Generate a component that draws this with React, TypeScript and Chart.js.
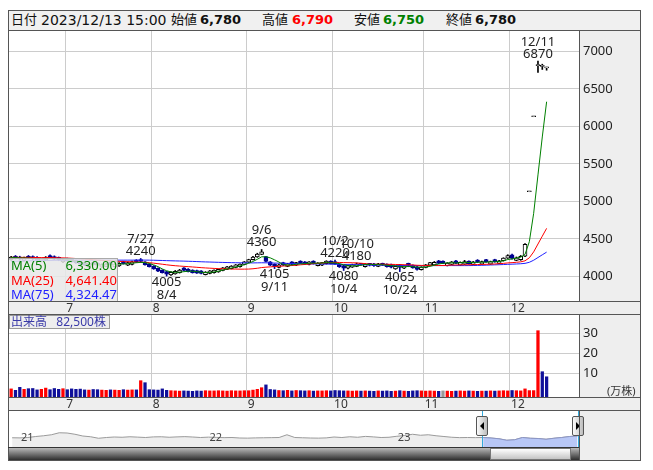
import React, { useEffect, useRef } from 'react';
import { Chart, registerables } from 'chart.js';
Chart.register(...registerables);

const FONT = "'Noto Sans', 'Noto Sans CJK JP', sans-serif";
const HFONT = "'DejaVu Sans', 'Noto Sans CJK JP', sans-serif";

// ---- trading days (2023) ----
const dates = [
  '6/14','6/15','6/16','6/19','6/20','6/21','6/22','6/23','6/26','6/27','6/28','6/29','6/30',
  '7/3','7/4','7/5','7/6','7/7','7/10','7/11','7/12','7/13','7/14','7/18','7/19','7/20','7/21','7/24','7/25','7/26','7/27','7/28','7/31',
  '8/1','8/2','8/3','8/4','8/7','8/8','8/9','8/10','8/14','8/15','8/16','8/17','8/18','8/21','8/22','8/23','8/24','8/25','8/28','8/29','8/30','8/31',
  '9/1','9/4','9/5','9/6','9/7','9/8','9/11','9/12','9/13','9/14','9/15','9/19','9/20','9/21','9/22','9/25','9/26','9/27','9/28','9/29',
  '10/2','10/3','10/4','10/5','10/6','10/10','10/11','10/12','10/13','10/16','10/17','10/18','10/19','10/20','10/23','10/24','10/25','10/26','10/27','10/30','10/31',
  '11/1','11/2','11/6','11/7','11/8','11/9','11/10','11/13','11/14','11/15','11/16','11/17','11/20','11/21','11/22','11/24','11/27','11/28','11/29','11/30',
  '12/1','12/4','12/5','12/6','12/7','12/8','12/11','12/12','12/13',
];

const opens = [
  4225,4270,4260,4215,4270,4265,4255,4205,4220,4280,4265,4255,4195,
  4240,4230,4215,4200,4185,4125,4185,4180,4125,4135,4190,4130,4140,4200,4150,4160,4220,4225,4195,4165,
  4140,4110,4085,4065,4020,4035,4050,4115,4100,4085,4080,4075,4025,4040,4050,4060,4080,4095,4105,4120,4130,4160,
  4190,4225,4260,4295,4265,4195,4165,4120,4185,4135,4195,4150,4205,4195,4160,4205,4145,4150,4170,4205,
  4200,4165,4145,4110,4125,4135,4175,4130,4175,4170,4135,4175,4165,4160,4100,4155,4110,4175,4150,4130,4090,
  4120,4150,4155,4210,4205,4145,4160,4210,4150,4165,4205,4160,4220,4165,4225,4165,4225,4175,4210,4245,
  4290,4215,4225,4270,5130,6130,6810,6800,6780,
];
const highs = [
  4270,4280,4270,4260,4280,4275,4265,4245,4265,4290,4275,4260,4235,
  4245,4235,4220,4205,4190,4170,4190,4185,4170,4180,4195,4175,4185,4205,4195,4205,4225,4240,4200,4170,
  4145,4115,4090,4070,4065,4080,4095,4120,4105,4090,4085,4080,4065,4080,4090,4100,4120,4135,4145,4160,4170,4200,
  4230,4270,4310,4360,4270,4200,4170,4165,4190,4175,4200,4190,4210,4200,4200,4210,4185,4190,4210,4210,
  4220,4170,4150,4150,4165,4180,4175,4170,4175,4175,4175,4178,4170,4165,4140,4160,4150,4178,4155,4135,4130,
  4160,4190,4200,4215,4210,4185,4200,4215,4195,4215,4210,4200,4225,4205,4230,4205,4230,4215,4250,4290,
  4300,4260,4280,4440,5130,6130,6870,6830,6790,
];
const lows = [
  4215,4230,4220,4205,4235,4225,4215,4195,4210,4240,4220,4210,4185,
  4205,4190,4175,4160,4145,4120,4150,4145,4120,4130,4150,4125,4135,4165,4145,4155,4185,4185,4150,4125,
  4095,4065,4045,4005,4015,4030,4045,4075,4060,4045,4040,4035,4020,4035,4045,4055,4075,4090,4100,4115,4125,4155,
  4185,4220,4255,4290,4195,4145,4105,4115,4145,4130,4155,4145,4170,4160,4155,4165,4140,4145,4165,4165,
  4160,4120,4080,4100,4120,4130,4150,4125,4140,4135,4130,4145,4125,4115,4095,4065,4105,4130,4110,4085,4085,
  4115,4145,4150,4170,4170,4140,4155,4170,4145,4160,4165,4155,4185,4160,4190,4160,4190,4170,4205,4240,
  4230,4210,4215,4265,5130,6130,6720,6760,6750,
];
const closes = [
  4260,4240,4230,4250,4245,4235,4225,4235,4255,4250,4230,4220,4225,
  4210,4195,4180,4165,4150,4160,4155,4150,4160,4170,4155,4165,4175,4170,4185,4195,4190,4200,4155,4130,
  4100,4070,4050,4030,4055,4070,4085,4080,4065,4050,4045,4040,4060,4075,4085,4095,4115,4130,4140,4155,4165,4195,
  4225,4260,4300,4330,4200,4150,4130,4155,4150,4170,4160,4185,4175,4165,4195,4170,4180,4185,4205,4170,
  4165,4130,4110,4145,4160,4170,4160,4165,4150,4145,4170,4150,4130,4125,4135,4120,4145,4140,4115,4095,4125,
  4155,4185,4190,4175,4175,4180,4195,4175,4190,4200,4170,4195,4190,4200,4195,4200,4195,4210,4245,4280,
  4240,4250,4270,4430,5130,6130,6810,6800,6780,
];
// closes before 6/14, used only for the moving averages
const priorCloses = [
  4120,4130,4125,4140,4135,4150,4145,4140,4155,4160,
  4150,4145,4160,4170,4165,4155,4150,4160,4175,4170,
  4165,4160,4170,4180,4175,4165,4170,4185,4180,4175,
  4170,4180,4190,4185,4180,4175,4190,4200,4195,4190,
  4200,4210,4205,4215,4220,4210,4220,4230,4225,4235,
  4240,4250,4245,4255,4260,4250,4245,4255,4265,4260,
  4250,4255,4265,4270,4260,4255,4250,4260,4265,4255,
  4250,4260,4255,4250,
];
// volume, shares
const volumes = [
  22000,15000,30000,20000,23000,24000,17000,20000,26000,18000,24000,20000,23000,
  18000,22000,20000,21000,17000,16000,19000,18000,16000,15000,17000,16000,15000,18000,16000,17000,17000,63000,53000,18000,
  17000,16000,22000,15000,13000,12000,11000,12000,11000,10000,12000,11000,13000,12000,12000,13000,12000,11000,13000,12000,12000,13000,
  13000,16000,20000,28000,42000,19000,17000,14000,13000,15000,12000,14000,13000,12000,13000,11000,12000,12000,13000,12000,
  14000,13000,12000,12000,11000,12000,11000,12000,11000,10000,12000,11000,12000,10000,11000,13000,11000,10000,12000,13000,12000,
  11000,12000,11000,10000,12000,11000,10000,11000,12000,11000,12000,11000,10000,11000,11000,12000,11000,12000,13000,12000,
  14000,13000,12000,22000,13500,13500,313000,108000,82500,
];

const highMarks = ['7/27', '9/6', '10/2', '10/10', '12/11'];
const lowMarks = ['8/4', '9/11', '10/4', '10/24'];
const maPeriods = [5, 25, 75];
const maColors = ['#008000', '#ff0000', '#2020ff'];
const priceTicks = [4000, 4500, 5000, 5500, 6000, 6500, 7000];
const volTicks = [10, 20, 30];

// navigator: half-month closes, Dec 2020 .. Dec 2023 (month 0 = Jan 2021)
const navValues = [
  4190,4185,4200,4240,4270,4310,4390,4380,4330,4260,4230,4170,4200,4220,4210,4230,4215,4200,4225,4230,
  4210,4225,4235,4220,4200,4215,4205,4195,4200,4180,4175,4185,4190,4195,4200,4310,4200,4190,4180,4175,
  4185,4220,4200,4230,4210,4245,4225,4200,4210,4250,4280,4330,4290,4310,4270,4240,4210,4195,4200,4195,
  4200,4180,4150,4090,4110,4200,4170,4160,4130,4170,4200,4240,4260,
];
const navYears = ['21', '22', '23'];
const navYearMonths = [0, 12, 24];
const navSelection = [29.4, 35.6];
const NAV_START = -0.5;
const NAV_STEP = 0.5;

const SLOTS = 132;
const PRICE_MIN = 3673, PRICE_MAX = 7286;
const VOL_MIN = -1.85, VOL_MAX = 39.65;

const N = dates.length;
const labels = [...dates, ...Array(SLOTS - N).fill('')];
const monthOf = (d: string) => d.split('/')[0];
const monthStart = labels.map((d, i) => i > 0 && i < N && monthOf(d) !== monthOf(dates[i - 1]));
const monthLabel = labels.map((d, i) => (monthStart[i] ? monthOf(d) : ''));

function movingAvg(n: number) {
  const all = [...priorCloses, ...closes];
  const off = priorCloses.length;
  return closes.map((_, i) => {
    const end = off + i;
    const start = Math.max(0, end - n + 1);
    let s = 0;
    for (let k = start; k <= end; k++) s += all[k];
    return s / (end - start + 1);
  });
}
const mas = maPeriods.map(movingAvg);
const isUp = closes.map((c, i) => c >= opens[i]);
const volColor = closes.map((c, i) => {
  const p = i === 0 ? priorCloses[priorCloses.length - 1] : closes[i - 1];
  return c > p ? '#ff0000' : c < p ? '#10109a' : '#999999';
});

const fmt = (v: number, d = 0) =>
  v.toLocaleString('en-US', { minimumFractionDigits: d, maximumFractionDigits: d });

const noPad = (s: any) => { s.paddingTop = 0; s.paddingBottom = 0; s.paddingLeft = 0; s.paddingRight = 0; };

const xScaleCommon = (h: number) => ({
  type: 'category' as const,
  offset: true,
  grid: {
    offset: true,
    drawTicks: false,
    color: (ctx: any) => (monthStart[ctx.index] ? '#cccccc' : 'rgba(0,0,0,0)'),
  },
  border: { display: false },
  ticks: {
    autoSkip: false,
    maxRotation: 0,
    minRotation: 0,
    padding: 0,
    align: 'start' as const,
    labelOffset: -1,
    color: '#333',
    font: { family: FONT, size: 12 },
    callback: (_v: any, i: number) => monthLabel[i],
  },
  afterFit: (s: any) => { s.height = h; noPad(s); },
});

const yScaleCommon = (min: number, max: number, ticks: number[]) => ({
  position: 'right' as const,
  min,
  max,
  grid: { drawTicks: false, color: '#cccccc' },
  border: { display: false },
  ticks: { padding: 4, color: '#222', font: { family: FONT, size: 13 }, callback: (v: any) => String(v) },
  afterBuildTicks: (s: any) => { s.ticks = ticks.map((v) => ({ value: v })); },
  afterFit: (s: any) => { s.width = 61; noPad(s); },
});

const panelBg = {
  id: 'panelBg',
  beforeDraw(chart: any) {
    const { ctx, chartArea: ca, width, height } = chart;
    ctx.save();
    ctx.fillStyle = '#ffffff';
    ctx.fillRect(ca.left, ca.top, ca.right - ca.left, ca.bottom - ca.top);
    ctx.fillStyle = '#eeeeee';
    ctx.fillRect(ca.right, 0, width - ca.right, ca.bottom);
    ctx.fillRect(0, ca.bottom, width, height - ca.bottom);
    ctx.restore();
  },
};

const markLabels = {
  id: 'markLabels',
  afterDatasetsDraw(chart: any) {
    const { ctx, scales } = chart;
    ctx.save();
    ctx.font = `13px ${FONT}`;
    ctx.fillStyle = '#222';
    ctx.textAlign = 'center';
    ctx.textBaseline = 'middle';
    highMarks.forEach((d) => {
      const i = dates.indexOf(d);
      const x = scales.x.getPixelForValue(i);
      const y = scales.y.getPixelForValue(highs[i]);
      ctx.fillText(d, x, y - 19);
      ctx.fillText(String(highs[i]), x, y - 7);
    });
    lowMarks.forEach((d) => {
      const i = dates.indexOf(d);
      const x = scales.x.getPixelForValue(i);
      const y = scales.y.getPixelForValue(lows[i]);
      ctx.fillText(String(lows[i]), x, y + 6);
      ctx.fillText(d, x, y + 19);
    });
    ctx.restore();
  },
};

const navLabels = {
  id: 'navLabels',
  afterDatasetsDraw(chart: any) {
    const { ctx, scales } = chart;
    ctx.save();
    ctx.font = `11px ${FONT}`;
    ctx.fillStyle = '#444';
    ctx.textBaseline = 'middle';
    navYears.forEach((t, k) => {
      ctx.fillText(t, scales.x.getPixelForValue(navYearMonths[k]) + 1, 28);
    });
    ctx.restore();
  },
};

const baseOpts = {
  animation: false as const,
  responsive: false,
  layout: { padding: 0 },
  plugins: { legend: { display: false }, tooltip: { enabled: false } },
};

function PriceChart() {
  const ref = useRef<HTMLCanvasElement>(null);
  useEffect(() => {
    const chart = new Chart(ref.current!, {
      type: 'bar',
      data: {
        labels,
        datasets: [
          ...mas.map((m, k) => ({
            type: 'line' as const,
            data: m,
            borderColor: maColors[k],
            borderWidth: 1,
            pointRadius: 0,
            tension: 0,
          })),
          {
            type: 'bar' as const,
            data: opens.map((o, i) => [o, closes[i]]),
            backgroundColor: isUp.map((u) => (u ? '#ffffff' : '#000090')),
            borderColor: isUp.map((u) => (u ? '#000000' : '#000090')),
            borderWidth: 1,
            borderSkipped: false,
            barThickness: 4,
            minBarLength: 1,
            grouped: false,
          },
          {
            type: 'bar' as const,
            data: lows.map((l, i) => [l, highs[i]]),
            backgroundColor: isUp.map((u) => (u ? '#000000' : '#000090')),
            barThickness: 1,
            grouped: false,
          },
        ] as any,
      },
      options: {
        ...baseOpts,
        scales: {
          x: xScaleCommon(13) as any,
          y: yScaleCommon(PRICE_MIN, PRICE_MAX, priceTicks) as any,
        },
      },
      plugins: [panelBg, markLabels],
    });
    return () => chart.destroy();
  }, []);
  return <canvas ref={ref} width={631} height={284} style={{ position: 'absolute', left: 9, top: 30, width: 631, height: 284 }} />;
}

function VolumeChart() {
  const ref = useRef<HTMLCanvasElement>(null);
  useEffect(() => {
    const chart = new Chart(ref.current!, {
      type: 'bar',
      data: {
        labels,
        datasets: [
          {
            data: volumes.map((v) => [VOL_MIN, v / 10000]),
            backgroundColor: volColor,
            barThickness: 2.6,
            grouped: false,
          },
        ] as any,
      },
      options: {
        ...baseOpts,
        scales: {
          x: xScaleCommon(13) as any,
          y: yScaleCommon(VOL_MIN, VOL_MAX, volTicks) as any,
        },
      },
      plugins: [panelBg],
    });
    return () => chart.destroy();
  }, []);
  return <canvas ref={ref} width={631} height={96} style={{ position: 'absolute', left: 9, top: 314, width: 631, height: 96 }} />;
}

function NavChart() {
  const ref = useRef<HTMLCanvasElement>(null);
  useEffect(() => {
    const pts = navValues.map((v, k) => ({ x: NAV_START + k * NAV_STEP, y: v }));
    const sel = pts.filter((p) => p.x >= navSelection[0] && p.x <= navSelection[1]);
    const chart = new Chart(ref.current!, {
      type: 'line',
      data: {
        datasets: [
          { data: sel, borderColor: '#8a94c4', backgroundColor: '#b8c7f6', fill: 'start', borderWidth: 1, pointRadius: 0 },
          { data: pts, borderColor: '#9a9a9a', backgroundColor: '#eeeeee', fill: 'start', borderWidth: 1, pointRadius: 0 },
        ] as any,
      },
      options: {
        ...baseOpts,
        scales: {
          x: { type: 'linear', min: -0.7, max: 35.6, display: false },
          y: { min: 3820, max: 5300, display: false },
        },
      },
      plugins: [navLabels],
    });
    return () => chart.destroy();
  }, []);
  return <canvas ref={ref} width={570} height={37} style={{ position: 'absolute', left: 9, top: 410, width: 570, height: 37 }} />;
}

const line = (l: number, t: number, w: number, h: number, c = '#555') => (
  <div style={{ position: 'absolute', left: l, top: t, width: w, height: h, background: c }} />
);

export default function App() {
  const last = N - 1;
  const maLast = mas.map((m) => m[last]);
  const hs: React.CSSProperties = { position: 'absolute', top: 12, lineHeight: '16px', fontSize: 13, fontFamily: HFONT, color: '#111', whiteSpace: 'nowrap' };
  const hv: React.CSSProperties = { ...hs, fontWeight: 'bold', fontSize: 13 };
  const maNames = maPeriods.map((p) => `MA(${p})`);
  return (
    <div style={{ position: 'absolute', left: 0, top: 0, width: 653, height: 470, overflow: 'hidden', background: '#fff' }}>
      <div style={{ position: 'absolute', left: 8, top: 10, width: 633, height: 451, border: '1px solid #555', boxSizing: 'border-box', background: '#fff' }} />
      <PriceChart />
      <VolumeChart />
      <NavChart />
      {/* header */}
      <div style={{ position: 'absolute', left: 8, top: 10, width: 633, height: 21, border: '1px solid #555', boxSizing: 'border-box', background: '#f0f0f0' }} />
      <span style={{ ...hs, left: 11 }}>日付</span>
      <span style={{ ...hs, left: 41, fontSize: 14 }}>2023/12/{dates[last].split('/')[1]} 15:00</span>
      <span style={{ ...hs, left: 171 }}>始値</span>
      <span style={{ ...hv, left: 200 }}>{fmt(opens[last])}</span>
      <span style={{ ...hs, left: 262 }}>高値</span>
      <span style={{ ...hv, left: 292, color: '#ff0000' }}>{fmt(highs[last])}</span>
      <span style={{ ...hs, left: 354 }}>安値</span>
      <span style={{ ...hv, left: 383, color: '#008000' }}>{fmt(lows[last])}</span>
      <span style={{ ...hs, left: 446 }}>終値</span>
      <span style={{ ...hv, left: 475 }}>{fmt(closes[last])}</span>
      {/* MA legend */}
      <div style={{ position: 'absolute', left: 9, top: 258, width: 109, height: 43, background: 'rgba(232,232,232,0.85)', borderTop: '1px solid #aaa', borderRight: '1px solid #aaa', boxSizing: 'border-box' }} />
      {maNames.map((nm, k) => (
        <React.Fragment key={nm}>
          <span style={{ position: 'absolute', left: 11, top: 258 + k * 14.5, lineHeight: '15px', fontSize: 13, fontFamily: FONT, color: maColors[k] }}>{nm}</span>
          <span style={{ position: 'absolute', right: 653 - 117, top: 258 + k * 14.5, lineHeight: '15px', fontSize: 13, fontFamily: FONT, color: maColors[k] }}>{fmt(maLast[k], 2)}</span>
        </React.Fragment>
      ))}
      {/* volume label */}
      <div style={{ position: 'absolute', left: 9, top: 315, width: 101, height: 14, background: '#eeeeee', border: '1px solid #999', boxSizing: 'border-box' }} />
      <span style={{ position: 'absolute', left: 11, top: 314, lineHeight: '15px', fontSize: 12, fontFamily: FONT, color: '#3a3aa8', whiteSpace: 'pre' }}>{'出来高   ' + fmt(volumes[last]) + '株'}</span>
      <span style={{ position: 'absolute', left: 607, top: 384, lineHeight: '13px', fontSize: 11, fontFamily: FONT, color: '#333' }}>(万株)</span>
      {/* navigator extras */}
      <div style={{ position: 'absolute', left: 580, top: 410, width: 60, height: 50, background: '#eeeeee' }} />
      <div style={{ position: 'absolute', left: 9, top: 448, width: 570, height: 12, background: 'linear-gradient(to bottom, #b8b8b8, #2e2e2e)' }} />
      <div style={{ position: 'absolute', left: 490, top: 448, width: 81, height: 12, background: 'linear-gradient(to bottom, #ffffff, #c4c4c4)', border: '1px solid #777', boxSizing: 'border-box' }} />
      {line(482, 410, 1, 38, '#33aadd')}
      {line(578, 410, 1, 38, '#33aadd')}
      {[476, 572].map((l, k) => (
        <div key={l} style={{ position: 'absolute', left: l, top: 416, width: 12, height: 20, background: 'linear-gradient(to right, #fbfbfb, #bdbdbd)', border: '1px solid #555', boxSizing: 'border-box', borderRadius: 2 }}>
          <div style={{ position: 'absolute', left: 3, top: 5, width: 0, height: 0, borderTop: '4px solid transparent', borderBottom: '4px solid transparent', [k === 0 ? 'borderRight' : 'borderLeft']: '4px solid #000' } as any} />
        </div>
      ))}
      {/* frame lines */}
      {line(8, 301, 633, 1)}
      {line(8, 314, 633, 1)}
      {line(8, 397, 633, 1)}
      {line(8, 410, 633, 1)}
      {line(8, 447, 572, 1, '#333')}
      {line(579, 30, 1, 271)}
      {line(579, 314, 1, 83)}
      {line(579, 410, 1, 50)}
    </div>
  );
}
